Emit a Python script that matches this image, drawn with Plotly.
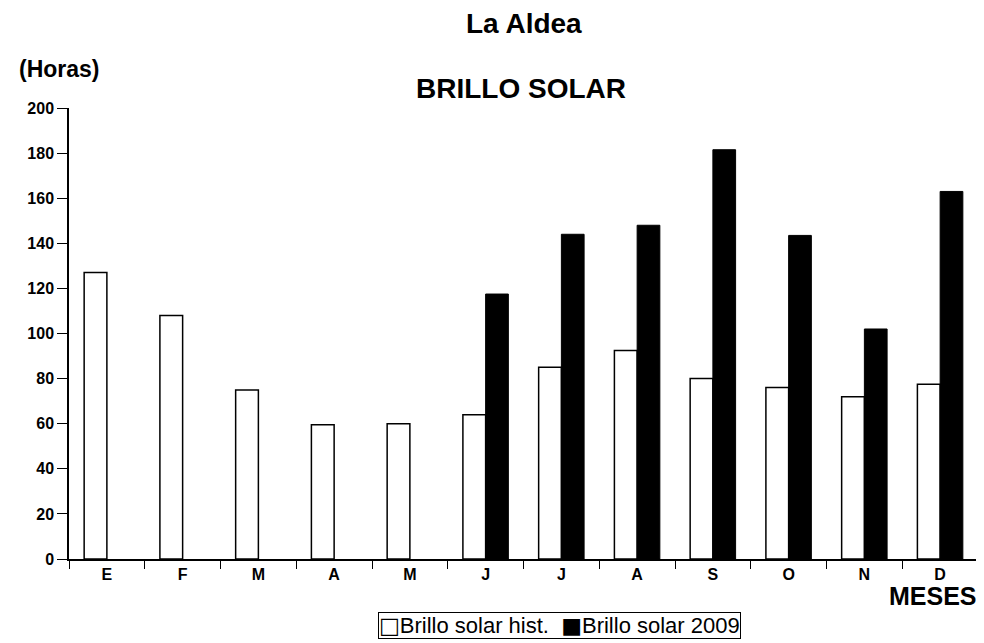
import plotly.graph_objects as go

meses = ["E", "F", "M", "A", "M", "J", "J", "A", "S", "O", "N", "D"]
hist = [127, 108, 75, 59.5, 60, 64, 85, 92.5, 80, 76, 72, 77.5]
brillo_2009 = [None, None, None, None, None, 117.5, 144, 148, 181.5, 143.5, 102, 163]
nombres = ["Brillo solar hist.", "Brillo solar 2009"]

# category keys must be unique (month letters repeat)
claves = [f"{m}{i}" for i, m in enumerate(meses)]

fuente = "Arial, Liberation Sans, DejaVu Sans, sans-serif"

fig = go.Figure()
fig.add_trace(go.Bar(x=claves, y=hist, name=nombres[0],
                     marker=dict(color="white", line=dict(color="black", width=1.5))))
fig.add_trace(go.Bar(x=claves, y=brillo_2009, name=nombres[1],
                     marker=dict(color="black", line=dict(color="black", width=1))))

# page body has an 8px margin, so the figure is a bit smaller than the window
fig.update_layout(
    width=976, height=635,
    margin=dict(l=61, r=6, t=100, b=84, autoexpand=False),
    paper_bgcolor="white", plot_bgcolor="white",
    barmode="group", bargap=0.4, bargroupgap=0,
    font=dict(family=fuente, color="black"),
    showlegend=False,
)

fig.update_xaxes(
    type="category", tickmode="array", tickvals=claves, ticktext=meses,
    range=[-0.5, 11.5], showline=True, linecolor="black", linewidth=1.5,
    ticks="outside", tickson="boundaries", ticklen=8, tickcolor="black",
    tickfont=dict(size=16, weight="bold"), showgrid=False, zeroline=False,
)
fig.update_yaxes(
    range=[0, 200], dtick=20, showline=True, linecolor="black", linewidth=1.5,
    ticks="outside", ticklen=10, tickcolor="black",
    tickfont=dict(size=16, weight="bold"), showgrid=False, zeroline=False,
)

def texto(t, x, y, size, weight="bold", **kw):
    fig.add_annotation(text=t, x=x, y=y, xref="paper", yref="paper",
                       xanchor="center", yanchor="middle", showarrow=False,
                       font=dict(size=size, weight=weight), **kw)

texto("La Aldea", 0.500, 1.188, 28)
texto("BRILLO SOLAR", 0.497, 1.044, 28)
texto("(Horas)", -0.010, 1.086, 23)
texto("MESES", 0.9505, -0.082, 25)

# legend drawn as boxed text like the original
sq = "<span style='font-family:DejaVu Sans'>{}</span>"
texto(sq.format("\u25a1") + nombres[0] + "  " + sq.format("\u25a0") + nombres[1],
      0.5396, -0.1485, 22, weight="normal",
      bordercolor="black", borderwidth=1, borderpad=0)

fig.write_html("out.html")
